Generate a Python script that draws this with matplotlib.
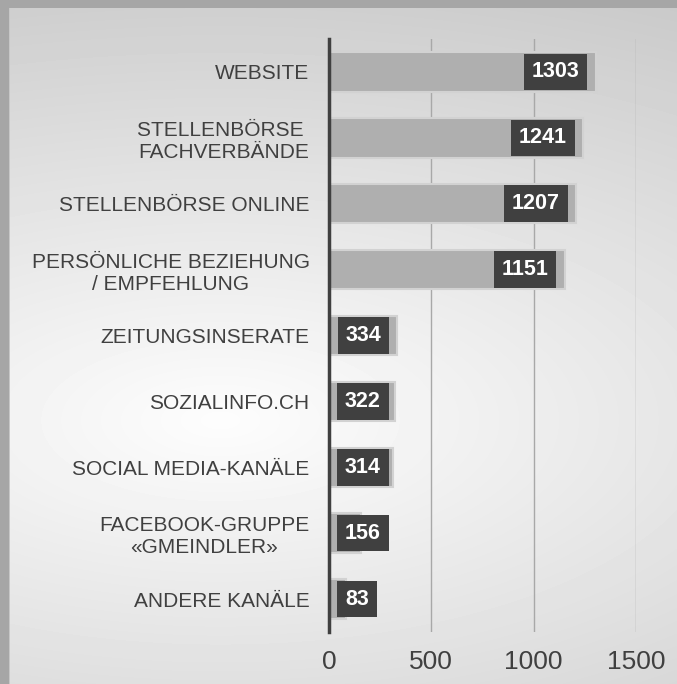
import matplotlib
matplotlib.use("Agg")
import matplotlib.pyplot as plt
import numpy as np

plt.rcParams['font.family'] = ['Liberation Sans', 'DejaVu Sans']

# data
kanaele = ["WEBSITE", "STELLENBÖRSE \nFACHVERBÄNDE", "STELLENBÖRSE ONLINE",
           "PERSÖNLICHE BEZIEHUNG\n/ EMPFEHLUNG", "ZEITUNGSINSERATE", "SOZIALINFO.CH",
           "SOCIAL MEDIA-KANÄLE", "FACEBOOK-GRUPPE\n«GMEINDLER»", "ANDERE KANÄLE"]
anzahl = [1303, 1241, 1207, 1151, 334, 322, 314, 156, 83]
x_ticks = [0, 500, 1000, 1500]

W, H = 677, 684
fig = plt.figure(figsize=(W / 100, H / 100), dpi=100)

# background: grey border + soft elliptical light spot
bg = fig.add_axes([0, 0, 1, 1], zorder=-10)
yy, xx = np.mgrid[0:H, 0:W]
drop = np.sqrt(((xx - 220) / 20.0) ** 2 + ((yy - 420) / 9.0) ** 2)
val = np.clip(253 - drop, 200, 253) / 255.0
val[:, :9] = 0.65
val[:8, :] = 0.65
val[8:, 9] = 0.78
bg.imshow(val, cmap='gray', vmin=0, vmax=1, aspect='auto', interpolation='bilinear')
bg.axis('off')

ax = fig.add_axes([329 / W, 1 - 632 / H, (636 - 329) / W, (632 - 39) / H])
ax.set_facecolor('none')

y = np.arange(len(kanaele))
ax.barh(y, anzahl, height=0.6, color='#afafaf', edgecolor='#d2d2d2', linewidth=1.5, zorder=3)

ax.set_xlim(0, 1500)
ax.set_ylim(len(kanaele) - 0.5, -0.5)
ax.set_xticks(x_ticks)
ax.set_yticks(y)
ax.set_yticklabels(kanaele)
for lbl in ax.get_yticklabels():
    lbl.set_multialignment('center')
    lbl.set_linespacing(1.2)

ax.grid(axis='x', color='#a8a8a8', linewidth=1, zorder=1)
ax.tick_params(axis='both', length=0, colors='#404040')
ax.tick_params(axis='y', labelsize=15, pad=14)
ax.tick_params(axis='x', labelsize=19, pad=13)
for side in ['top', 'right', 'bottom']:
    ax.spines[side].set_visible(False)
ax.spines['left'].set_color('#404040')
ax.spines['left'].set_linewidth(2.5)
ax.spines['left'].set_zorder(5)

labels = []
for i, v in enumerate(anzahl):
    t = ax.annotate(str(v), xy=(v, i), xycoords='data', xytext=(-16, 0), textcoords='offset pixels',
                    ha='right', va='center', color='white', fontsize=15.5, fontweight='bold', zorder=6,
                    bbox=dict(boxstyle='square,pad=0.36', facecolor='#404040', edgecolor='none'))
    labels.append(t)

fig.canvas.draw()
renderer = fig.canvas.get_renderer()
x0 = ax.transData.transform((0, 0))[0]
for i, t in enumerate(labels):
    bb = t.get_bbox_patch().get_window_extent(renderer)
    if bb.x0 < x0 + 8:
        t.xy = (0, i)
        t.set_position((16, 0))
        t.set_ha('left')

fig.savefig('out.png', dpi=100)
